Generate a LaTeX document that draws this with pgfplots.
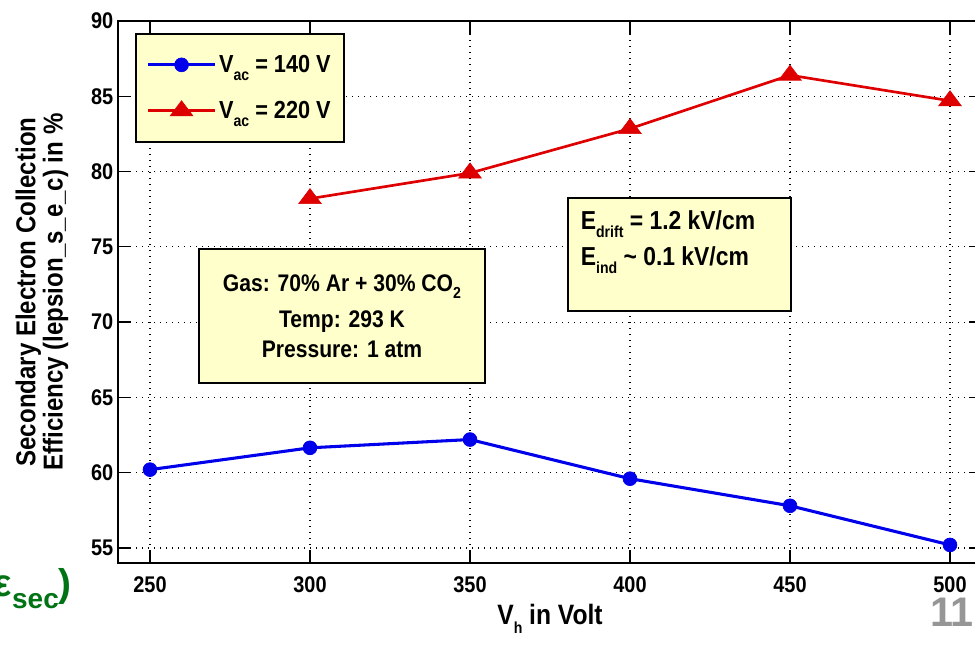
\documentclass[border=0pt]{standalone}
\usepackage{fontspec}
\setmainfont{Liberation Sans}[FakeStretch=0.88]
\newfontfamily\plainsans{Liberation Sans}
\usepackage{pgfplots}
\pgfplotsset{compat=1.18}
\definecolor{boxyellow}{RGB}{255,255,204}
\definecolor{myblue}{RGB}{0,0,235}
\definecolor{myred}{RGB}{222,0,0}
\definecolor{mygreen}{RGB}{0,115,20}
\definecolor{mygray}{RGB}{150,150,150}
\newcommand{\sub}[1]{\raisebox{-0.6ex}{\fontsize{12}{12}\selectfont #1}}

\begin{document}
\begin{tikzpicture}
\clip (0,0) rectangle (731.25pt,483.75pt);
\begin{axis}[
  scale only axis, width=648pt, height=406.5pt,
  at={(88.5pt,61.5pt)}, anchor=south west,
  xmin=240, xmax=510, ymin=54, ymax=90,
  xtick={250,300,...,500}, ytick={55,60,...,90},
  grid=major,
  grid style={black, line width=0.9pt, dash pattern=on 0.9pt off 3.6pt},
  tick align=inside, major tick length=10pt,
  every tick/.style={black, line width=1pt},
  axis line style={line width=1.2pt},
  tick label style={font=\fontsize{17}{17}\selectfont\bfseries},
  xticklabel style={yshift=-7pt},
  yticklabel style={xshift=0pt},
  /pgf/number format/assume math mode=true,
  xlabel={V\sub{h} in Volt},
  xlabel style={at={(rel axis cs:0.5,0)}, anchor=base, yshift=-46pt,
    font=\fontsize{21}{21}\selectfont\bfseries},
  ylabel={Secondary Electron Collection\\Efficiency (lepsion\_s\_e\_c) in \%},
  ylabel style={at={([xshift=-57pt]rel axis cs:0,0.5)}, anchor=center, rotate=0,
    align=center, font=\fontsize{20.5}{20.5}\selectfont\bfseries},
  clip=false,
  legend cell align=left,
  legend style={at={(rel axis cs:0.0197,0.978)}, anchor=north west,
    fill=boxyellow, draw=black, line width=1.5pt,
    inner xsep=8pt, inner ysep=14pt, row sep=16pt,
    font=\fontsize{18.5}{18.5}\selectfont\bfseries},
  legend image code/.code={
    \draw[#1] (0pt,0pt) -- (50pt,0pt);
    \draw[#1, only marks] plot coordinates {(25pt,0pt)};
  },
]
\addplot[myblue, line width=2.3pt, mark=*, mark size=5.2pt,
  mark options={solid, fill=myblue, draw=myblue, line width=0.5pt}]
  coordinates {(250,60.2) (300,61.65) (350,62.2) (400,59.6) (450,57.8) (500,55.2)};
\addlegendentry{V\sub{ac} = 140 V}
\addplot[myred, line width=2pt, mark=triangle*, mark size=7.5pt,
  mark options={solid, fill=myred, draw=myred, line width=0.5pt, xscale=1.3}]
  coordinates {(300,78.2) (350,79.9) (400,82.85) (450,86.4) (500,84.7)};
\addlegendentry{V\sub{ac} = 220 V}

\node[draw=black, fill=boxyellow, line width=1.5pt, minimum width=214pt,
  minimum height=100pt, align=center, font=\fontsize{18}{23}\selectfont\bfseries]
  at (axis cs:310,70.4)
  {Gas: 70\% Ar + 30\% CO\sub{2}\\[4pt] Temp: 293 K\\ Pressure: 1 atm};
\node[draw=black, fill=boxyellow, line width=1.5pt, minimum width=167pt,
  minimum height=85pt] (ebox) at (axis cs:415.5,74.5) {};
\node[anchor=north west, align=left, inner sep=0pt,
  font=\fontsize{19.5}{27}\selectfont\bfseries]
  at ([xshift=10pt,yshift=-10pt]ebox.north west)
  {E\sub{drift} = 1.2 kV/cm\\ E\sub{ind} \textasciitilde{} 0.1 kV/cm};
\end{axis}
\node[anchor=base east, text=mygreen, inner sep=0pt,
  font=\plainsans\bfseries\fontsize{29}{29}\selectfont]
  at (54pt,36pt) {ε\raisebox{-0.3em}{\fontsize{21}{21}\selectfont sec})};
\node[anchor=base west, text=mygray, inner sep=0pt,
  font=\plainsans\bfseries\fontsize{31}{31}\selectfont]
  at (697.5pt,13.5pt) {11};
\end{tikzpicture}
\end{document}
